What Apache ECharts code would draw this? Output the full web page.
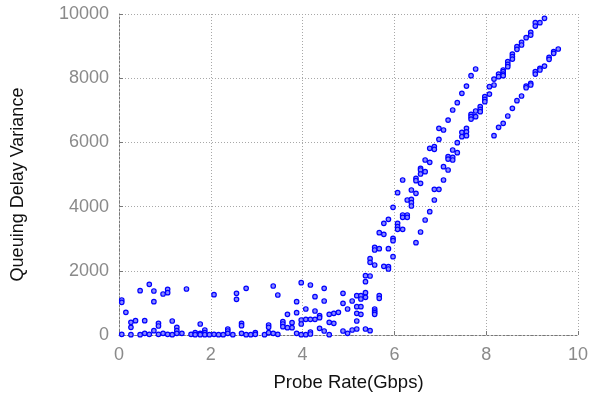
<!DOCTYPE html>
<html>
<head>
<meta charset="utf-8">
<script src="https://cdn.jsdelivr.net/npm/echarts@6/dist/echarts.min.js"></script>
<style>
  html, body { margin: 0; padding: 0; background: #fff; }
  #chart { width: 592px; height: 395px; }
</style>
</head>
<body>
<div id="chart"></div>
<script>
// axis ticks
const xTicks = [0, 2, 4, 6, 8, 10];
const yTicks = [0, 2000, 4000, 6000, 8000, 10000];

// [probe rate (Gbps), queuing delay variance]
const rate0to2 = [
  [0.06, 1090], [0.06, 1018], [0.06, 21], [0.15, 706], [0.26, 395], [0.26, 239], [0.26, 10],
  [0.36, 446], [0.46, 1381], [0.46, 10], [0.56, 446], [0.56, 52], [0.66, 1578], [0.66, 21],
  [0.76, 1371], [0.76, 1038], [0.76, 135], [0.86, 363], [0.86, 280], [0.86, 21], [0.96, 1277],
  [0.96, 52], [1.06, 1422], [1.06, 1319], [1.06, 21], [1.16, 436], [1.16, 10], [1.26, 239],
  [1.26, 135], [1.26, 52], [1.37, 52], [1.47, 1433], [1.57, 21], [1.66, 73], [1.66, 10],
  [1.77, 343], [1.77, 52], [1.77, 10], [1.87, 156], [1.87, 73], [1.87, 10], [1.97, 10]
];
const rate2to4 = [
  [2.07, 1256], [2.07, 21], [2.17, 10], [2.27, 10], [2.37, 187], [2.37, 125], [2.37, 52],
  [2.48, 10], [2.56, 1298], [2.56, 1111], [2.67, 363], [2.67, 291], [2.67, 52], [2.77, 1454],
  [2.77, 10], [2.87, 10], [2.97, 73], [2.97, 21], [3.17, 10], [3.26, 312], [3.26, 239],
  [3.26, 73], [3.36, 1526], [3.36, 52], [3.46, 1246], [3.46, 21], [3.57, 415], [3.57, 343],
  [3.57, 260], [3.67, 644], [3.67, 228], [3.77, 384], [3.77, 228], [3.87, 1038], [3.87, 696],
  [3.87, 52], [3.97, 1630], [3.97, 467], [3.97, 343], [3.97, 10]
];
const rate4to6 = [
  [4.07, 810], [4.07, 488], [4.07, 10], [4.17, 1558], [4.17, 488], [4.17, 93], [4.17, 31],
  [4.27, 1194], [4.27, 748], [4.27, 488], [4.37, 602], [4.37, 540], [4.37, 208], [4.47, 1454],
  [4.47, 1059], [4.47, 125], [4.58, 644], [4.58, 395], [4.58, 10], [4.68, 675], [4.68, 363],
  [4.78, 706], [4.88, 1298], [4.88, 986], [4.88, 125], [4.98, 810], [4.98, 52], [5.08, 1059],
  [5.08, 156], [5.18, 1225], [5.18, 883], [5.18, 675], [5.18, 436], [5.18, 187], [5.27, 1225],
  [5.27, 1121], [5.27, 883], [5.27, 644], [5.37, 1848], [5.37, 1661], [5.37, 1319],
  [5.37, 1173], [5.37, 187], [5.47, 2378], [5.47, 2264], [5.47, 1838], [5.47, 135],
  [5.57, 2731], [5.57, 2648], [5.57, 2180], [5.57, 810], [5.57, 748], [5.57, 696], [5.57, 644],
  [5.67, 3188], [5.67, 2689], [5.67, 1225], [5.67, 1142], [5.77, 3478], [5.77, 3136],
  [5.77, 2139], [5.87, 3603], [5.87, 2689], [5.87, 2128], [5.87, 2056], [5.97, 3977],
  [5.97, 3011], [5.97, 2938], [5.97, 2440]
];
const rate6to8 = [
  [6.07, 4434], [6.07, 3478], [6.07, 3375], [6.07, 3292], [6.18, 4828], [6.18, 3738],
  [6.18, 3665], [6.18, 3292], [6.28, 4205], [6.28, 3738], [6.28, 3665], [6.37, 4517],
  [6.37, 4226], [6.37, 4122], [6.37, 4018], [6.47, 4880], [6.47, 4807], [6.47, 4413],
  [6.47, 2876], [6.57, 5192], [6.57, 5140], [6.57, 5015], [6.57, 4724], [6.57, 3208],
  [6.67, 5451], [6.67, 5088], [6.67, 3582], [6.77, 5815], [6.77, 5379], [6.77, 3842],
  [6.87, 5867], [6.87, 5784], [6.87, 4538], [6.87, 4205], [6.97, 6438], [6.97, 6095],
  [6.97, 4538], [7.07, 6386], [7.07, 5244], [7.07, 4828], [7.17, 6697], [7.17, 5555],
  [7.17, 5482], [7.17, 5140], [7.27, 7009], [7.27, 5763], [7.27, 5534], [7.27, 5451],
  [7.37, 7237], [7.37, 5990], [7.37, 5680], [7.47, 7528], [7.47, 6313], [7.47, 6178],
  [7.57, 7756], [7.57, 6438], [7.57, 6330], [7.57, 6209], [7.67, 8078], [7.67, 6874],
  [7.67, 6801], [7.67, 6728], [7.77, 8286], [7.77, 6978], [7.77, 6801], [7.87, 7113],
  [7.87, 7030], [7.87, 6957], [7.97, 7424], [7.97, 7341], [7.97, 7268]
];
const rate8to10 = [
  [8.07, 7736], [8.07, 7507], [8.17, 7974], [8.17, 7788], [8.17, 6209], [8.27, 8130],
  [8.27, 8047], [8.27, 6469], [8.37, 8255], [8.37, 8203], [8.37, 8130], [8.37, 8078],
  [8.37, 6593], [8.47, 8514], [8.47, 8431], [8.47, 8359], [8.47, 6822], [8.57, 8753],
  [8.57, 8670], [8.57, 8597], [8.57, 7061], [8.67, 8982], [8.67, 8899], [8.67, 7300],
  [8.77, 9117], [8.77, 9034], [8.77, 7445], [8.87, 9262], [8.87, 7756], [8.87, 7703],
  [8.97, 9428], [8.97, 9345], [8.97, 7840], [8.97, 7788], [9.07, 9729], [9.07, 9625],
  [9.07, 8203], [9.07, 8130], [9.17, 9729], [9.17, 8307], [9.17, 8255], [9.27, 9864],
  [9.27, 8379], [9.37, 8649], [9.37, 8587], [9.47, 8826], [9.47, 8774], [9.57, 8909]
];

const chart = echarts.init(document.getElementById("chart"));

const font = "'Liberation Sans', Arial, Helvetica, sans-serif";
const gridLine = { show: true, lineStyle: { color: "#a8a8a8", type: [1, 2], width: 1 } };

const option = {
  animation: false,
  grid: { left: 119, right: 14, top: 14, bottom: 60, outerBoundsMode: "none" },
  xAxis: {
    type: "value",
    min: xTicks[0],
    max: xTicks[xTicks.length - 1],
    interval: 2,
    name: "Probe Rate(Gbps)",
    nameLocation: "middle",
    nameGap: 38,
    nameTextStyle: { fontFamily: font, fontSize: 18.5, color: "#111" },
    axisLine: { show: true, lineStyle: { color: "#777", type: [2, 2] } },
    axisTick: { show: true, inside: true, length: 4, lineStyle: { color: "#777" } },
    axisLabel: { fontFamily: font, fontSize: 18, color: "#8a8a8a", margin: 11, formatter: (v) => String(v) },
    splitLine: gridLine
  },
  yAxis: {
    type: "value",
    min: yTicks[0],
    max: yTicks[yTicks.length - 1],
    interval: 2000,
    name: "Queuing Delay Variance",
    nameLocation: "middle",
    nameGap: 92,
    nameTextStyle: { fontFamily: font, fontSize: 18, color: "#111", padding: [0, 20, 0, 0] },
    axisLine: { show: true, lineStyle: { color: "#777", type: [2, 2] } },
    axisTick: { show: true, inside: true, length: 4, lineStyle: { color: "#777" } },
    axisLabel: { fontFamily: font, fontSize: 18, color: "#8a8a8a", margin: 10, formatter: (v) => String(v) },
    splitLine: gridLine
  },
  series: [
    {
      type: "scatter",
      data: [].concat(rate0to2, rate2to4, rate4to6, rate6to8, rate8to10),
      symbol: "circle",
      symbolSize: 4.5,
      itemStyle: { color: "#8a8aff", borderColor: "#0000ff", borderWidth: 1.2, opacity: 1 }
    }
  ]
};

chart.setOption(option);
</script>
</body>
</html>
